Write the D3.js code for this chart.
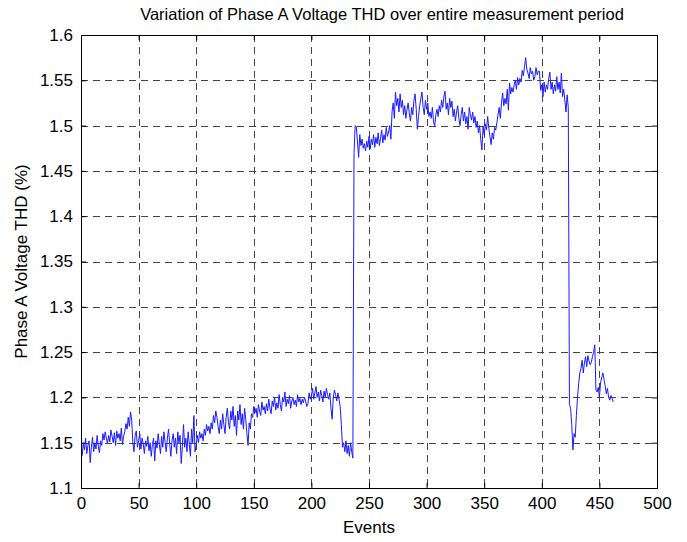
<!DOCTYPE html>
<html>
<head>
<meta charset="utf-8">
<script src="https://cdn.jsdelivr.net/npm/d3@7"></script>
<style>
  html, body { margin: 0; padding: 0; background: #fff; }
  svg { display: block; font-family: "Liberation Sans", Arial, sans-serif; }
</style>
</head>
<body>
<svg id="chart" width="687" height="542"></svg>
<script>
// Phase A voltage THD (%) per event, events 1..462, split into runs
const thdLowA = [
  1.135, 1.150, 1.142, 1.155, 1.138, 1.147, 1.152, 1.128, 1.145, 1.156,
  1.140, 1.150, 1.143, 1.158, 1.146, 1.139, 1.152, 1.147, 1.160, 1.153,
  1.162, 1.155, 1.149, 1.158, 1.151, 1.164, 1.157, 1.150, 1.161, 1.147,
  1.163, 1.155, 1.160, 1.152, 1.166, 1.148, 1.157, 1.162, 1.171, 1.165,
  1.178, 1.168, 1.184, 1.175, 1.150, 1.140, 1.158, 1.163, 1.145, 1.152,
  1.160, 1.143, 1.155, 1.149, 1.138, 1.152, 1.146, 1.157, 1.141, 1.150,
  1.135, 1.148, 1.155, 1.130, 1.152, 1.144, 1.160, 1.148, 1.138, 1.157,
  1.145, 1.162, 1.150, 1.140, 1.155, 1.165, 1.148, 1.135, 1.152, 1.160,
  1.145, 1.155, 1.138, 1.162, 1.150, 1.158, 1.127, 1.146, 1.170, 1.145,
  1.155, 1.140, 1.162, 1.148, 1.135, 1.165, 1.150, 1.180, 1.140, 1.148
];
const thdLowB = [
  1.158, 1.150, 1.162, 1.155, 1.160, 1.152, 1.165, 1.158, 1.170, 1.163,
  1.168, 1.160, 1.172, 1.165, 1.180, 1.172, 1.185, 1.178, 1.168, 1.160,
  1.175, 1.165, 1.182, 1.170, 1.160, 1.178, 1.188, 1.172, 1.165, 1.185,
  1.175, 1.190, 1.168, 1.180, 1.158, 1.185, 1.175, 1.192, 1.170, 1.182,
  1.165, 1.188, 1.176, 1.160, 1.147, 1.172, 1.165, 1.182, 1.178, 1.190,
  1.183, 1.188, 1.178, 1.192, 1.185, 1.180, 1.195, 1.186, 1.190, 1.182,
  1.193, 1.185, 1.198, 1.188, 1.182, 1.196, 1.190, 1.200, 1.186, 1.194,
  1.188, 1.203, 1.192, 1.185, 1.200, 1.195, 1.206, 1.190, 1.198, 1.193,
  1.202, 1.188, 1.196, 1.200, 1.192, 1.197, 1.190, 1.203, 1.195, 1.199,
  1.192, 1.198, 1.194, 1.200, 1.196, 1.190, 1.193, 1.205, 1.198, 1.202,
  1.210, 1.198, 1.205, 1.212, 1.200, 1.206, 1.196, 1.208, 1.202, 1.195,
  1.207, 1.200, 1.210, 1.203, 1.198, 1.205, 1.188, 1.176, 1.200, 1.208,
  1.203, 1.196, 1.205, 1.198, 1.190, 1.170, 1.145, 1.150, 1.140, 1.152,
  1.138, 1.147, 1.135, 1.150, 1.140, 1.133
];
const thdHighA = [
  1.470, 1.500, 1.499, 1.482, 1.465, 1.490, 1.478, 1.485, 1.475, 1.480,
  1.472, 1.483, 1.476, 1.488, 1.474, 1.485, 1.479, 1.490, 1.476, 1.487,
  1.480, 1.492, 1.478, 1.486, 1.495, 1.481, 1.490, 1.484, 1.498, 1.488,
  1.493, 1.500, 1.485, 1.515, 1.525, 1.508, 1.537, 1.522, 1.530, 1.515,
  1.535, 1.520, 1.528, 1.512, 1.522, 1.508, 1.518, 1.525, 1.513, 1.505,
  1.520, 1.512, 1.528, 1.535, 1.518, 1.496, 1.510, 1.522, 1.530, 1.537,
  1.520, 1.512, 1.528, 1.518, 1.525, 1.510, 1.515, 1.508, 1.520, 1.505,
  1.499, 1.512, 1.518, 1.510, 1.522, 1.515, 1.528, 1.520, 1.532, 1.538,
  1.518, 1.525, 1.512, 1.530, 1.520, 1.527, 1.510, 1.518, 1.505, 1.515,
  1.522, 1.508, 1.500, 1.512, 1.520, 1.505, 1.515, 1.502, 1.510, 1.496
];
const thdHighB = [
  1.520, 1.512, 1.506, 1.515, 1.503, 1.510, 1.498, 1.505, 1.492, 1.500,
  1.485, 1.473, 1.499, 1.490, 1.502, 1.495, 1.510, 1.497, 1.488, 1.479,
  1.492, 1.485, 1.498, 1.495, 1.503, 1.512, 1.520, 1.508, 1.525, 1.536,
  1.522, 1.530, 1.524, 1.540, 1.517, 1.547, 1.535, 1.542, 1.537, 1.545,
  1.550, 1.540, 1.553, 1.545, 1.552, 1.548, 1.561, 1.555, 1.565, 1.575,
  1.562, 1.558, 1.552, 1.564, 1.557, 1.560, 1.550, 1.554, 1.564, 1.556,
  1.560, 1.560, 1.539, 1.545, 1.532, 1.548, 1.537, 1.545, 1.540, 1.552,
  1.559, 1.540, 1.548, 1.535, 1.545, 1.538, 1.554, 1.540, 1.548, 1.536,
  1.558, 1.532, 1.540, 1.528, 1.515, 1.534, 1.520
];
const thdTail = [
  1.192, 1.188, 1.170, 1.142, 1.160, 1.156, 1.180, 1.200, 1.215, 1.227,
  1.232, 1.241, 1.227, 1.238, 1.245, 1.234, 1.246, 1.240, 1.236, 1.239,
  1.245, 1.250, 1.258, 1.208, 1.206, 1.211, 1.200, 1.216, 1.222, 1.227,
  1.220, 1.213, 1.204, 1.210, 1.200, 1.197, 1.202, 1.199, 1.195
];

const xTicks = [0, 50, 100, 150, 200, 250, 300, 350, 400, 450, 500];
const yTicks = [1.1, 1.15, 1.2, 1.25, 1.3, 1.35, 1.4, 1.45, 1.5, 1.55, 1.6];
const yTickLabels = ["1.1", "1.15", "1.2", "1.25", "1.3", "1.35", "1.4", "1.45", "1.5", "1.55", "1.6"];

const titleText = "Variation of Phase A Voltage THD over entire measurement period";
const xLabel = "Events";
const yLabel = "Phase A Voltage THD (%)";

const thd = [].concat(thdLowA, thdLowB, thdHighA, thdHighB, thdTail);
const points = thd.map((v, i) => ({ event: i + 1, value: v }));

const svg = d3.select("#chart");
const plot = { left: 81, right: 657, top: 35, bottom: 488 };

const x = d3.scaleLinear().domain([0, 500]).range([plot.left, plot.right]);
const y = d3.scaleLinear().domain([1.1, 1.6]).range([plot.bottom, plot.top]);

const gridColor = "#444";

// dashed grid
svg.append("g").selectAll("line.vg")
  .data(xTicks.slice(1, -1)).join("line")
  .attr("x1", d => Math.round(x(d)) + 0.5).attr("x2", d => Math.round(x(d)) + 0.5)
  .attr("y1", plot.top).attr("y2", plot.bottom)
  .attr("stroke", gridColor).attr("stroke-width", 1)
  .attr("stroke-dasharray", "7,5");

svg.append("g").selectAll("line.hg")
  .data(yTicks.slice(1, -1)).join("line")
  .attr("y1", d => Math.round(y(d)) + 0.5).attr("y2", d => Math.round(y(d)) + 0.5)
  .attr("x1", plot.left).attr("x2", plot.right)
  .attr("stroke", gridColor).attr("stroke-width", 1)
  .attr("stroke-dasharray", "7,5");

// axes with inward ticks on all four sides
const tickLen = 5;
const axisBottom = d3.axisBottom(x).tickValues(xTicks).tickSize(-tickLen).tickPadding(9).tickFormat(d3.format("d"));
const axisTop = d3.axisTop(x).tickValues(xTicks).tickSize(-tickLen).tickFormat("");
const axisLeft = d3.axisLeft(y).tickValues(yTicks).tickSize(-tickLen).tickPadding(8)
  .tickFormat((d, i) => yTickLabels[i]);
const axisRight = d3.axisRight(y).tickValues(yTicks).tickSize(-tickLen).tickFormat("");

function styleAxis(g) {
  g.select(".domain").remove();
  g.selectAll(".tick line").attr("stroke", "#000");
  g.selectAll(".tick text").attr("fill", "#000").attr("font-size", 17)
    .attr("font-family", "'Liberation Sans', Arial, sans-serif");
}

svg.append("g").attr("transform", `translate(0,${plot.bottom})`).call(axisBottom).call(styleAxis);
svg.append("g").attr("transform", `translate(0,${plot.top})`).call(axisTop).call(styleAxis);
svg.append("g").attr("transform", `translate(${plot.left},0)`).call(axisLeft).call(styleAxis);
svg.append("g").attr("transform", `translate(${plot.right},0)`).call(axisRight).call(styleAxis);

// data line
const line = d3.line().x(d => x(d.event)).y(d => y(d.value));
svg.append("path").datum(points)
  .attr("d", line)
  .attr("fill", "none")
  .attr("stroke", "#1a1aff")
  .attr("stroke-width", 1)
  .attr("stroke-linejoin", "round");

// plot frame
svg.append("rect")
  .attr("x", plot.left + 0.5).attr("y", plot.top + 0.5)
  .attr("width", plot.right - plot.left).attr("height", plot.bottom - plot.top)
  .attr("fill", "none").attr("stroke", "#000").attr("stroke-width", 1);

// title and axis labels
svg.append("text")
  .attr("x", (plot.left + plot.right) / 2 + 13).attr("y", 20)
  .attr("text-anchor", "middle").attr("font-size", 16.5).attr("fill", "#000")
  .text(titleText);

svg.append("text")
  .attr("x", (plot.left + plot.right) / 2).attr("y", 533)
  .attr("text-anchor", "middle").attr("font-size", 17).attr("fill", "#000")
  .text(xLabel);

svg.append("text")
  .attr("transform", `translate(27,${(plot.top + plot.bottom) / 2}) rotate(-90)`)
  .attr("text-anchor", "middle").attr("font-size", 17).attr("fill", "#000")
  .text(yLabel);
</script>
</body>
</html>
